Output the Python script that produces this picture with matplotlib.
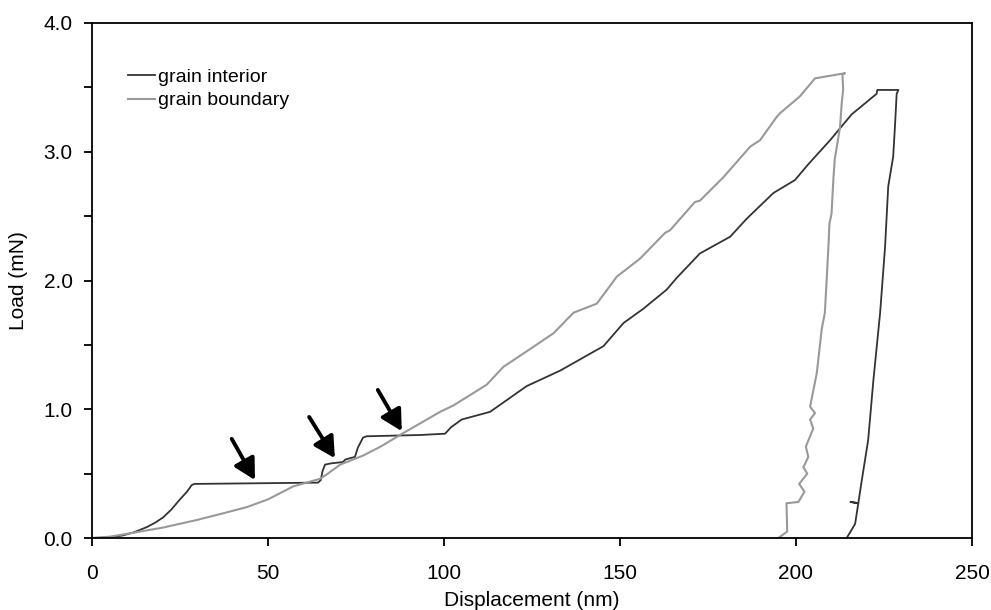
import matplotlib
matplotlib.use("Agg")
import matplotlib.pyplot as plt
from matplotlib.ticker import MultipleLocator, FormatStrFormatter

plt.rcParams['font.family'] = ['Liberation Sans', 'DejaVu Sans']

# grain interior (displacement nm, load mN)
gi_x = [0, 5, 8.8, 12, 15.6, 18, 20.2, 22.5, 25, 27, 28.3, 29, 64.2, 65, 65.5, 66.2, 68, 71.3, 72, 74.7,
        75.5, 77, 78, 93.2, 100.3, 102, 105, 113.1, 123.5, 133, 145.3, 151, 156.6, 163.3, 166.1, 172.7,
        181.3, 186, 193.6, 199.7, 203.4, 209.7, 215.8, 222.9, 223.1, 229.1,
        228.6, 228.1, 227.6, 226.2, 225.3, 223.9, 222, 220.5, 218.7, 217.7, 215.5, 217.7, 216.8, 214.4]
gi_y = [0, 0.005, 0.02, 0.045, 0.085, 0.12, 0.16, 0.22, 0.30, 0.36, 0.41, 0.42, 0.43, 0.45, 0.52, 0.57, 0.58, 0.59, 0.61, 0.63,
        0.70, 0.78, 0.79, 0.80, 0.81, 0.86, 0.92, 0.98, 1.18, 1.30, 1.49, 1.67, 1.78, 1.93, 2.02, 2.21,
        2.34, 2.48, 2.68, 2.78, 2.90, 3.09, 3.29, 3.45, 3.48, 3.48,
        3.45, 3.19, 2.96, 2.73, 2.26, 1.75, 1.23, 0.76, 0.45, 0.27, 0.28, 0.27, 0.11, 0.0]

# grain boundary
gb_x = [0, 5, 11.6, 20, 29.8, 37, 44, 50, 57.1, 64.8, 67, 70.5, 77, 82, 87.5, 93.2, 98.9, 102.7, 112.1,
        116.9, 123.5, 131.1, 136.8, 143.4, 149.1, 155.7, 162.8, 164.2, 171.3, 172.7, 179.3, 187, 189.8,
        194.5, 195.5, 201.1, 205.4, 213.9,
        213.2, 213.4, 213.0, 212.5, 211.0, 210.6, 210.1, 209.5, 209.2, 208.7, 208.2, 207.3, 205.9,
        204.0, 205.4, 204.0, 204.9, 202.8, 203.5, 202.1, 203.2, 200.9, 202.4, 200.7, 197.3, 197.5, 195.0]
gb_y = [0, 0.01, 0.04, 0.08, 0.14, 0.19, 0.24, 0.30, 0.40, 0.46, 0.50, 0.57, 0.64, 0.71, 0.80, 0.89, 0.98, 1.03, 1.19,
        1.33, 1.45, 1.59, 1.75, 1.82, 2.03, 2.17, 2.37, 2.39, 2.61, 2.62, 2.80, 3.04, 3.09,
        3.27, 3.30, 3.43, 3.57, 3.61,
        3.60, 3.48, 3.38, 3.19, 2.94, 2.78, 2.52, 2.44, 2.26, 2.00, 1.75, 1.62, 1.28,
        1.02, 0.97, 0.92, 0.85, 0.71, 0.63, 0.55, 0.50, 0.42, 0.36, 0.28, 0.27, 0.05, 0.0]

# arrows (start, end) in data coords
arrow_start = [(39.7, 0.77), (61.7, 0.94), (81.2, 1.15)]
arrow_end = [(46.3, 0.45), (69.0, 0.62), (88.0, 0.83)]

fig = plt.figure(figsize=(9.91, 6.10), dpi=100)
ax = fig.add_axes([92/991, 1-538/610, 880/991, 515/610])

ax.plot(gi_x, gi_y, color='#333333', lw=1.3, label='grain interior')
ax.plot(gb_x, gb_y, color='#999999', lw=1.5, label='grain boundary')

for s, e in zip(arrow_start, arrow_end):
    ax.annotate('', xy=e, xytext=s,
                arrowprops=dict(arrowstyle='-|>,head_length=0.7,head_width=0.38', lw=2.8,
                                color='black', shrinkA=0, shrinkB=0, mutation_scale=18))

ax.set_xlim(0, 250)
ax.set_ylim(0, 4.0)
ax.xaxis.set_major_locator(MultipleLocator(50))
ax.yaxis.set_major_locator(MultipleLocator(1.0))
ax.yaxis.set_minor_locator(MultipleLocator(0.5))
ax.yaxis.set_major_formatter(FormatStrFormatter('%.1f'))
ax.tick_params(axis='both', which='both', direction='out', length=6, width=1.3,
               top=False, right=False, labelsize=15)
ax.tick_params(axis='x', pad=13)
ax.tick_params(axis='y', pad=8)
for sp in ax.spines.values():
    sp.set_linewidth(1.3)

ax.set_xlabel('Displacement (nm)', fontsize=15)
ax.set_ylabel('Load (mN)', fontsize=15)
ax.xaxis.set_label_coords(0.5, -0.103)
ax.yaxis.set_label_coords(-0.073, 0.5)

ax.legend(loc='upper left', bbox_to_anchor=(0.041, 0.912), frameon=False, fontsize=14,
          handlelength=1.4, handletextpad=0.15, labelspacing=0.3, borderpad=0, borderaxespad=0)

fig.savefig('out.png', dpi=100)
